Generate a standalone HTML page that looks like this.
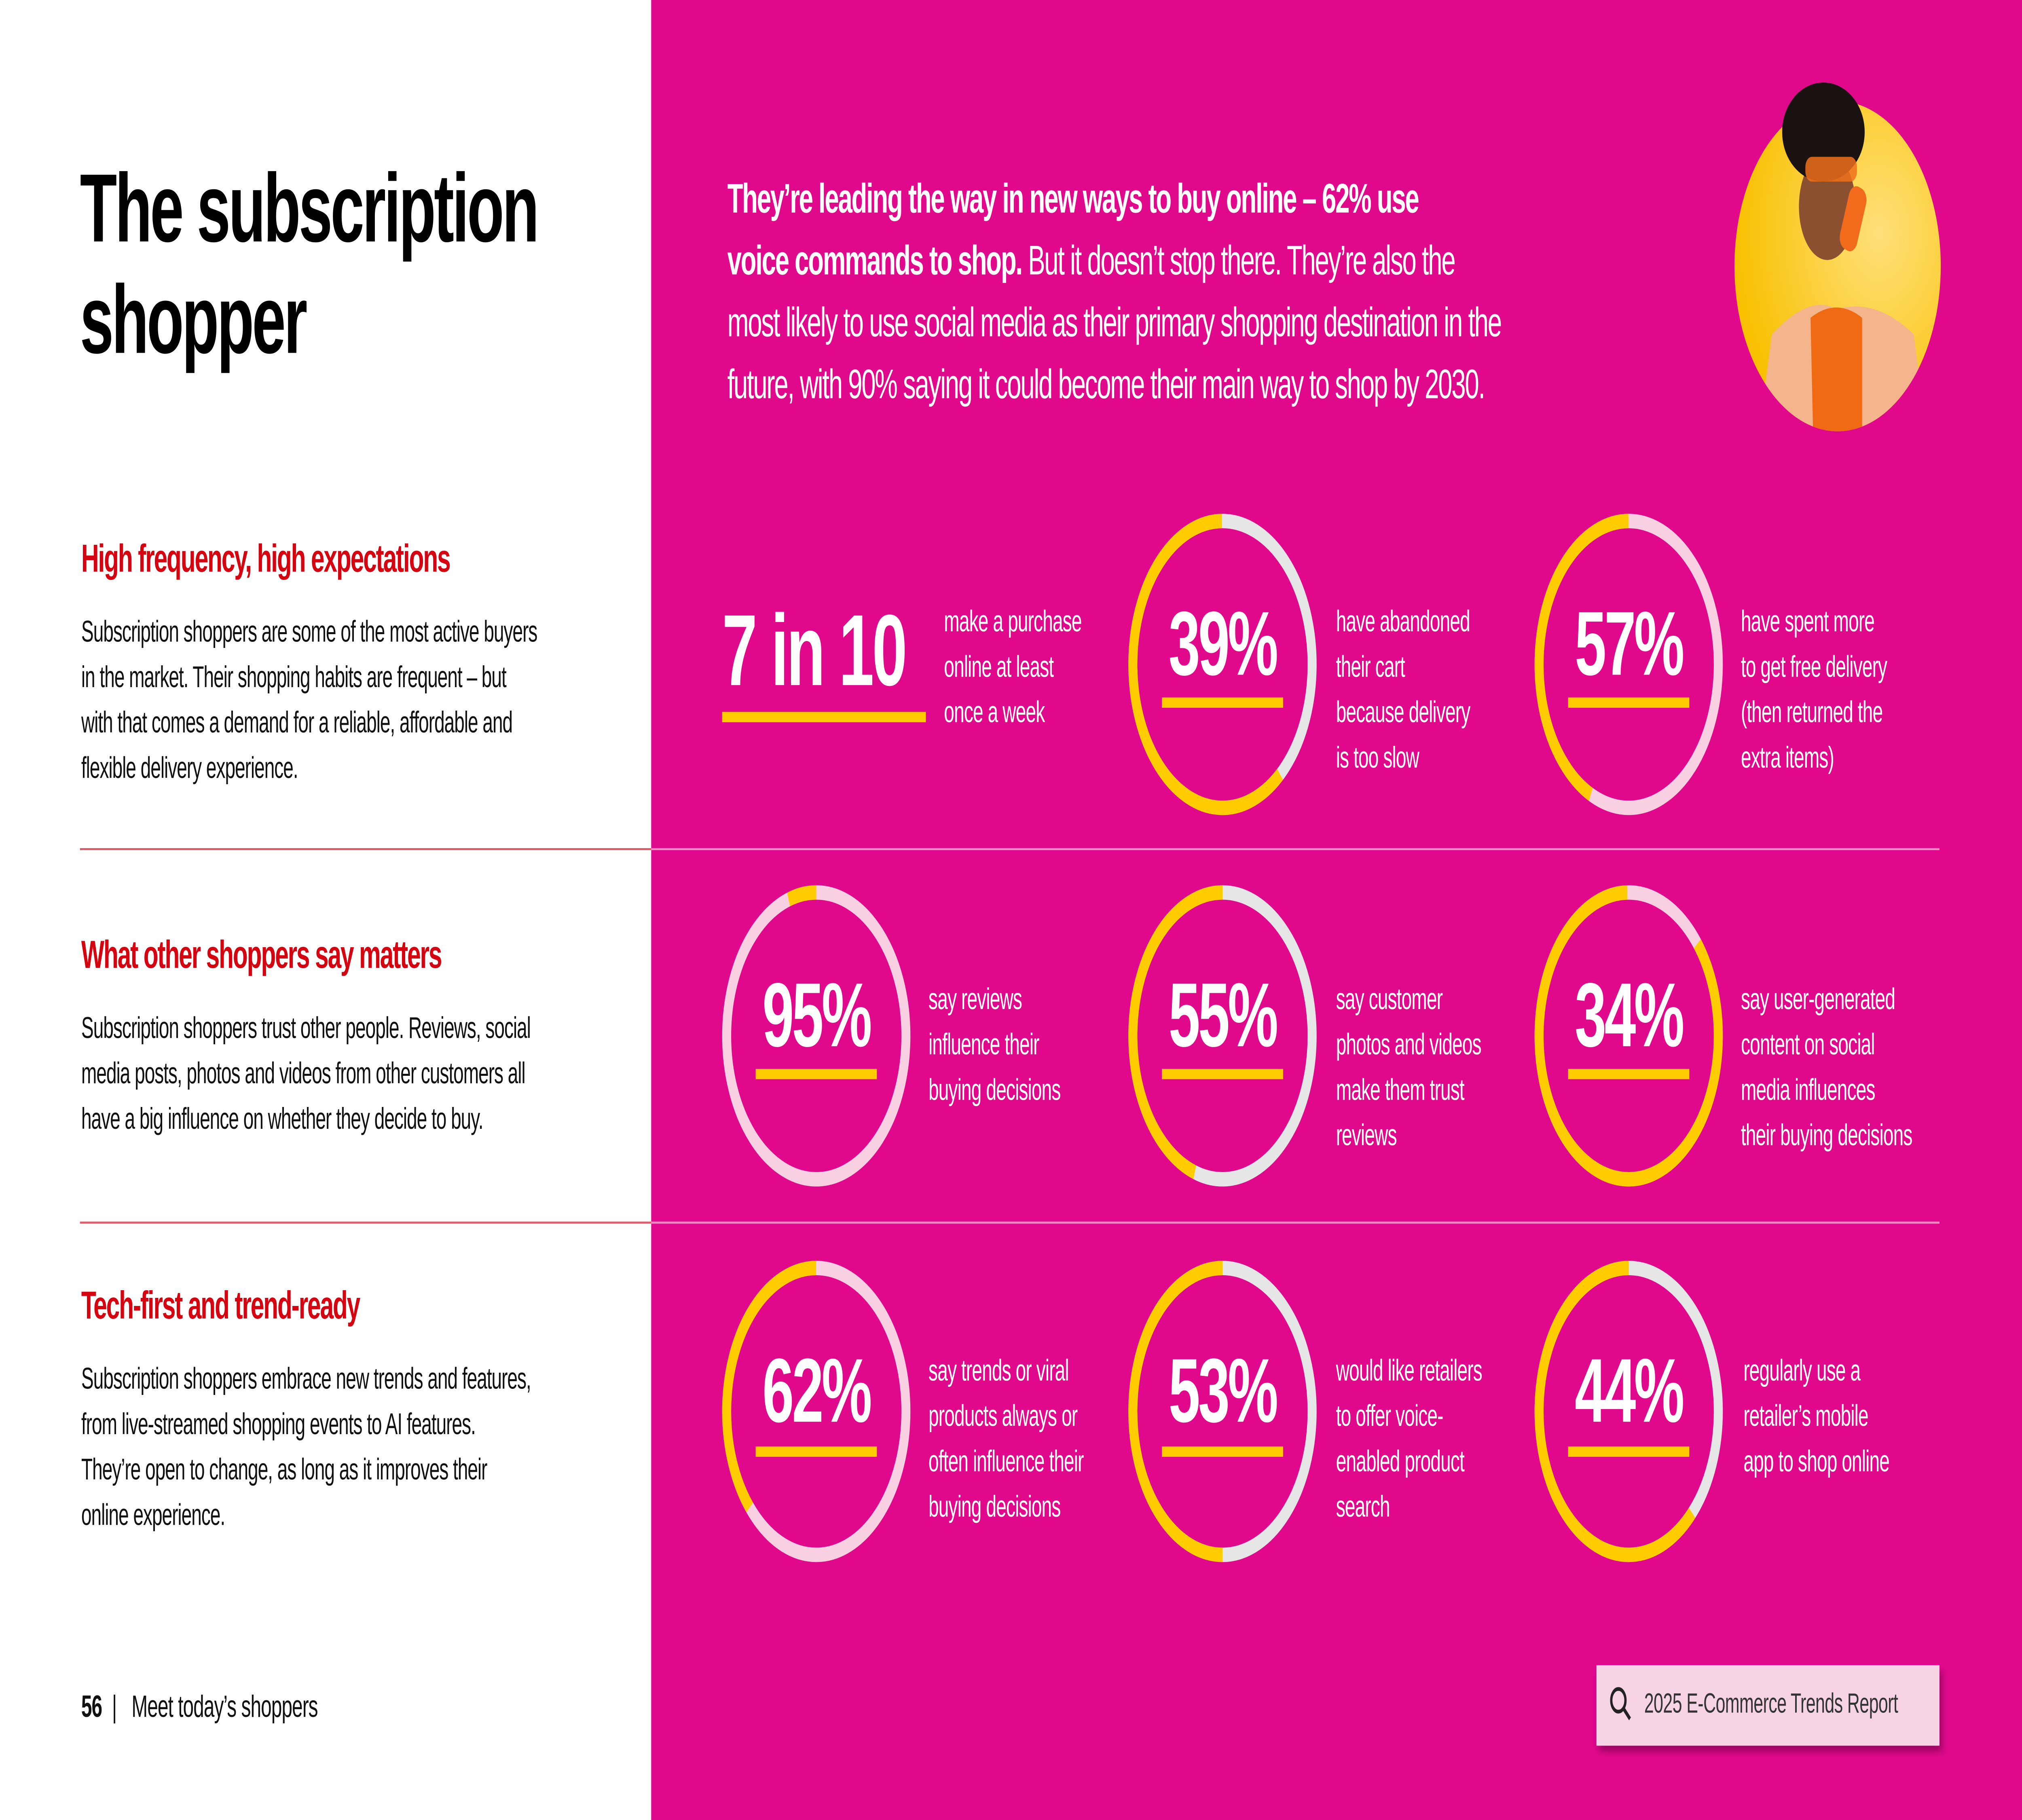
<!DOCTYPE html>
<html><head><meta charset="utf-8"><style>
html,body{margin:0;padding:0;width:100%;height:100%;overflow:hidden;background:#fff}
#w{position:absolute;left:0;top:0;width:1568px;height:882px;transform:scale(5.10204);transform-origin:0 0;font-family:"Liberation Sans",sans-serif;overflow:hidden}
.a{position:absolute;white-space:nowrap}
#pink{position:absolute;left:505px;top:0;width:1063px;height:882px;background:#E0098C}
h1{position:absolute;left:62px;top:74px;margin:0;font-size:47px;line-height:54px;font-weight:bold;letter-spacing:-1.5px;color:#000}
.h{position:absolute;left:63px;font-size:19px;font-weight:bold;color:#D40511;letter-spacing:-0.7px}
.b{position:absolute;left:63px;font-size:14.5px;line-height:22px;color:#111;letter-spacing:-0.35px}
.b div,.d div{white-space:nowrap}
.d{position:absolute;font-size:14.5px;line-height:22px;color:#fff;letter-spacing:-0.3px}
.n{position:absolute;color:#fff;font-weight:bold;font-size:44px;letter-spacing:-1.5px;text-align:center;width:120px}
.u{position:absolute;height:5px;background:#FFCC00}
.ln{position:absolute;height:1px}
</style></head><body><div id="w">
<div id="pink"></div>
<h1>The subscription<br>shopper</h1>
<div class="h" style="top:261px">High frequency, high expectations</div>
<div class="b" style="top:296px"><div>Subscription shoppers are some of the most active buyers</div><div>in the market. Their shopping habits are frequent – but</div><div>with that comes a demand for a reliable, affordable and</div><div>flexible delivery experience.</div></div>
<div class="h" style="top:453px">What other shoppers say matters</div>
<div class="b" style="top:488px"><div>Subscription shoppers trust other people. Reviews, social</div><div>media posts, photos and videos from other customers all</div><div>have a big influence on whether they decide to buy.</div></div>
<div class="h" style="top:623px">Tech-first and trend-ready</div>
<div class="b" style="top:658px"><div>Subscription shoppers embrace new trends and features,</div><div>from live-streamed shopping events to AI features.</div><div>They’re open to change, as long as it improves their</div><div>online experience.</div></div>
<div class="ln" style="left:62px;top:411px;width:443px;background:#e05a6a"></div>
<div class="ln" style="left:62px;top:592px;width:443px;background:#e05a6a"></div>
<div class="ln" style="left:505px;top:411px;width:999px;background:#f08cc4"></div>
<div class="ln" style="left:505px;top:592px;width:999px;background:#f08cc4"></div>
<div class="a" style="left:63px;top:819px;font-size:15px;color:#111;letter-spacing:-0.3px"><b>56</b> &nbsp;|&nbsp;&nbsp; Meet today’s shoppers</div>

<div class="a" style="left:564px;top:82px;font-size:20px;line-height:30px;color:#fff;letter-spacing:-0.75px"><b>They’re leading the way in new ways to buy online – 62% use</b><br><b>voice commands to shop.</b> But it doesn’t stop there. They’re also the<br>most likely to use social media as their primary shopping destination in the<br>future, with 90% saying it could become their main way to shop by 2030.</div>

<svg class="a" style="left:1344px;top:32px" width="162" height="178" viewBox="0 0 162 178">
<defs><clipPath id="cc"><circle cx="81" cy="97" r="80"/></clipPath><radialGradient id="g" cx="0.7" cy="0.4" r="0.7"><stop offset="0" stop-color="#ffe07a"/><stop offset="1" stop-color="#f8c000"/></radialGradient></defs>
<circle cx="81" cy="97" r="80" fill="url(#g)"/>
<g clip-path="url(#cc)">
<path d="M20 178 L30 130 Q60 110 80 118 Q110 112 140 130 L150 178Z" fill="#f4b48c"/>
<path d="M62 178 L60 122 Q80 112 100 122 L100 178Z" fill="#f06a14"/>
<ellipse cx="73" cy="68" rx="22" ry="26" fill="#8a5030"/>
<rect x="86" y="58" width="14" height="32" rx="6" fill="#f26a1c" transform="rotate(20 93 74)"/>
</g>
<ellipse cx="70" cy="32" rx="32" ry="24" fill="#1a1210"/>
<rect x="56" y="44" width="40" height="12" rx="5" fill="#f0701c" opacity="0.85"/>
</svg>

<svg class="a" style="left:0;top:0" width="1568" height="882">
<g fill="none" stroke-width="7">
<circle cx="948" cy="322" r="69.5" stroke="#e6e6e6"/>
<circle cx="948" cy="322" r="69.5" stroke="#FFCC00" stroke-dasharray="266.4 436.7" transform="rotate(50 948 322)"/>
<circle cx="1263" cy="322" r="69.5" stroke="#f9cfe2"/>
<circle cx="1263" cy="322" r="69.5" stroke="#FFCC00" stroke-dasharray="187.8 436.7" transform="rotate(115 1263 322)"/>
<circle cx="633" cy="502" r="69.5" stroke="#f9cfe2"/>
<circle cx="633" cy="502" r="69.5" stroke="#FFCC00" stroke-dasharray="21.8 436.7" transform="rotate(252 633 502)"/>
<circle cx="948" cy="502" r="69.5" stroke="#e6e6e6"/>
<circle cx="948" cy="502" r="69.5" stroke="#FFCC00" stroke-dasharray="196.5 436.7" transform="rotate(108 948 502)"/>
<circle cx="1263" cy="502" r="69.5" stroke="#f9cfe2"/>
<circle cx="1263" cy="502" r="69.5" stroke="#FFCC00" stroke-dasharray="375 436.7" transform="rotate(-40 1263 502)"/>
<circle cx="633" cy="684" r="69.5" stroke="#f9cfe2"/>
<circle cx="633" cy="684" r="69.5" stroke="#FFCC00" stroke-dasharray="160 436.7" transform="rotate(138 633 684)"/>
<circle cx="948" cy="684" r="69.5" stroke="#e6e6e6"/>
<circle cx="948" cy="684" r="69.5" stroke="#FFCC00" stroke-dasharray="218.4 436.7" transform="rotate(90 948 684)"/>
<circle cx="1263" cy="684" r="69.5" stroke="#e6e6e6"/>
<circle cx="1263" cy="684" r="69.5" stroke="#FFCC00" stroke-dasharray="273 436.7" transform="rotate(45 1263 684)"/>
</g></svg>

<div class="a" style="left:560px;top:288px;font-size:49px;font-weight:bold;color:#fff;letter-spacing:-1.5px">7 in 10</div>
<div class="u" style="left:560px;top:345px;width:158px"></div>
<div class="d" style="left:732px;top:291px"><div>make a purchase</div><div>online at least</div><div>once a week</div></div>

<div class="n" style="left:888px;top:288px">39%</div><div class="u" style="left:901px;top:338px;width:94px"></div>
<div class="d" style="left:1036px;top:291px"><div>have abandoned</div><div>their cart</div><div>because delivery</div><div>is too slow</div></div>
<div class="n" style="left:1203px;top:288px">57%</div><div class="u" style="left:1216px;top:338px;width:94px"></div>
<div class="d" style="left:1350px;top:291px"><div>have spent more</div><div>to get free delivery</div><div>(then returned the</div><div>extra items)</div></div>

<div class="n" style="left:573px;top:468px">95%</div><div class="u" style="left:586px;top:518px;width:94px"></div>
<div class="d" style="left:720px;top:474px"><div>say reviews</div><div>influence their</div><div>buying decisions</div></div>
<div class="n" style="left:888px;top:468px">55%</div><div class="u" style="left:901px;top:518px;width:94px"></div>
<div class="d" style="left:1036px;top:474px"><div>say customer</div><div>photos and videos</div><div>make them trust</div><div>reviews</div></div>
<div class="n" style="left:1203px;top:468px">34%</div><div class="u" style="left:1216px;top:518px;width:94px"></div>
<div class="d" style="left:1350px;top:474px"><div>say user-generated</div><div>content on social</div><div>media influences</div><div>their buying decisions</div></div>

<div class="n" style="left:573px;top:650px">62%</div><div class="u" style="left:586px;top:701px;width:94px"></div>
<div class="d" style="left:720px;top:654px"><div>say trends or viral</div><div>products always or</div><div>often influence their</div><div>buying decisions</div></div>
<div class="n" style="left:888px;top:650px">53%</div><div class="u" style="left:901px;top:701px;width:94px"></div>
<div class="d" style="left:1036px;top:654px"><div>would like retailers</div><div>to offer voice-</div><div>enabled product</div><div>search</div></div>
<div class="n" style="left:1203px;top:650px">44%</div><div class="u" style="left:1216px;top:701px;width:94px"></div>
<div class="d" style="left:1352px;top:654px"><div>regularly use a</div><div>retailer’s mobile</div><div>app to shop online</div></div>

<div class="a" style="left:1238px;top:807px;width:266px;height:39px;background:#f7d3e6;box-shadow:2px 3px 4px rgba(0,0,0,0.3)"></div>
<svg class="a" style="left:1248px;top:817px" width="18" height="18"><circle cx="7" cy="7" r="5.5" fill="none" stroke="#222" stroke-width="1.8"/><line x1="11" y1="11" x2="16" y2="16" stroke="#222" stroke-width="2"/></svg>
<div class="a" style="left:1275px;top:818px;font-size:13.5px;color:#333;letter-spacing:-0.2px">2025 E-Commerce Trends Report</div>
</div>
<script>
(function(){var w=window.innerWidth||8000,h=window.innerHeight||4500;
document.getElementById('w').style.transform='scale('+(w/1568)+','+(h/882)+')';})();
</script>
</body></html>
